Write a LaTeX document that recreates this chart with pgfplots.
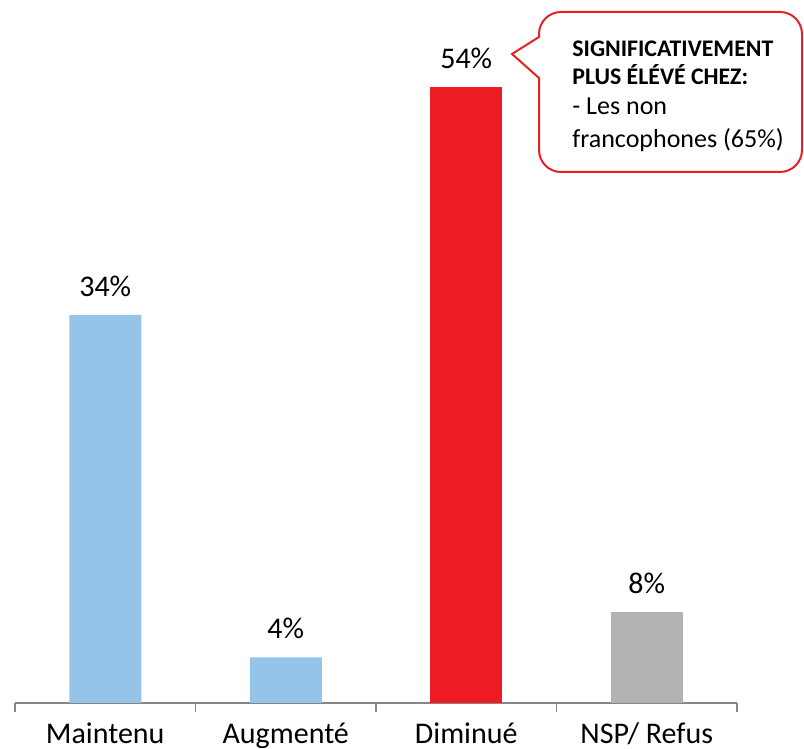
\documentclass[border=0pt]{standalone}
\usepackage{fontspec}
\setmainfont{Carlito}
\usepackage{pgfplots}
\pgfplotsset{compat=1.18}

\definecolor{barblue}{RGB}{149,196,232}
\definecolor{barred}{RGB}{237,28,36}
\definecolor{bargray}{RGB}{178,178,178}
\definecolor{callred}{RGB}{232,32,40}
\definecolor{axisgray}{RGB}{134,134,134}

\begin{document}
\begin{tikzpicture}
  \useasboundingbox (0pt,0pt) rectangle (402pt,374.5pt);
  \begin{axis}[
      scale only axis,
      width=361pt, height=351.5pt,
      at={(7.5pt,23pt)}, anchor=south west,
      xmin=-0.5, xmax=3.5,
      ymin=0, ymax=61.6,
      axis x line*=bottom,
      axis y line=none,
      x axis line style={draw=axisgray, line width=0.75pt},
      xtick={0,1,2,3},
      xticklabels={Maintenu,Augmenté,Diminué,NSP/ Refus},
      major tick length=0pt,
      minor xtick={-0.5,0.5,1.5,2.5,3.5},
      minor tick length=4.5pt,
      tick align=outside,
      minor tick style={draw=axisgray, line width=0.75pt},
      xticklabel style={anchor=base, yshift=-20.5pt, font=\fontsize{15}{18}\selectfont},
      ybar, bar width=36pt, bar shift=0pt,
      nodes near coords={\pgfmathprintnumber[assume math mode=true]{\pgfplotspointmeta}\%},
      every node near coord/.append style={inner sep=0pt, yshift=9pt,
        font=\fontsize{15}{18}\selectfont, text=black},
    ]
    % Maintenu, Augmenté
    \addplot[fill=barblue, draw=none, bar shift=0pt] coordinates {(0,34) (1,4)};
    % Diminué
    \addplot[fill=barred, draw=none, bar shift=0pt] coordinates {(2,54)};
    % NSP / Refus
    \addplot[fill=bargray, draw=none, bar shift=0pt] coordinates {(3,8)};
  \end{axis}
  % callout
  \draw[callred, line width=1pt, fill=white]
    (269.5pt,310pt) -- (269.5pt,299.5pt)
    arc[start angle=180, end angle=270, radius=11pt] -- (390pt,288.5pt)
    arc[start angle=270, end angle=360, radius=11pt] -- (401pt,357.5pt)
    arc[start angle=0, end angle=90, radius=11pt] -- (280.5pt,368.5pt)
    arc[start angle=90, end angle=180, radius=11pt] -- (269.5pt,356pt)
    -- (256pt,347.5pt) -- (269.5pt,335.5pt) -- cycle;
  \node[anchor=base west, inner sep=0pt, font=\fontsize{11.9}{14}\selectfont\bfseries]
    at (286pt,346pt) {SIGNIFICATIVEMENT};
  \node[anchor=base west, inner sep=0pt, font=\fontsize{11.9}{14}\selectfont\bfseries]
    at (286pt,332pt) {PLUS ÉLÉVÉ CHEZ:};
  \node[anchor=base west, inner sep=0pt, font=\fontsize{13}{16}\selectfont]
    at (286pt,317pt) {- Les non};
  \node[anchor=base west, inner sep=0pt, font=\fontsize{13}{16}\selectfont]
    at (286pt,300.5pt) {francophones (65\%)};
\end{tikzpicture}
\end{document}
